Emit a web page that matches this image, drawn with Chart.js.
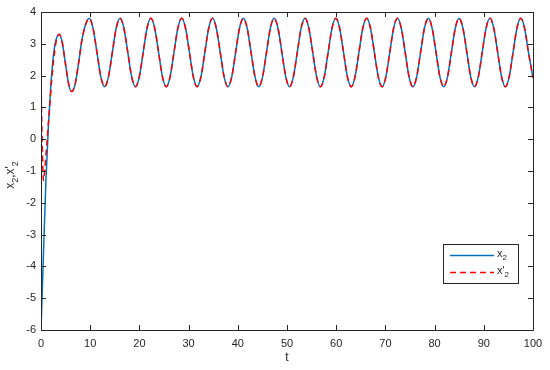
<!DOCTYPE html>
<html>
<head>
<meta charset="utf-8">
<script src="https://cdn.jsdelivr.net/npm/chart.js@4"></script>
<style>
  body { margin: 0; background: #fff; }
  canvas { display: block; }
</style>
</head>
<body>
<canvas id="stateChart" width="550" height="370"></canvas>
<script>
// transient part (t, x2) and (t, x'2)
var tHeadX2 = [0, 0.5, 1.0, 1.5, 2.0, 2.5, 3.0, 3.7, 4.3, 4.95, 5.6, 6.2, 6.9, 7.6, 8.3, 9.05];
var headX2 = [-6, -3.6, -1.3, 0.4, 1.7, 2.6, 3.1, 3.3, 3.05, 2.4, 1.75, 1.5, 1.7, 2.35, 3.1, 3.6];
var tHeadX2p = [0, 0.15, 0.3, 0.5, 0.8, 1.2, 1.7, 2.2, 2.8, 3.2, 3.7, 4.3, 4.95, 5.6, 6.2, 6.9, 7.6, 8.3, 9.05];
var headX2p = [2.0, 0.6, -0.5, -1.3, -0.9, -0.1, 0.9, 1.9, 2.8, 3.15, 3.3, 3.05, 2.4, 1.75, 1.5, 1.7, 2.35, 3.1, 3.6];

// steady oscillation, both signals overlap here
var tTail = [
  9.8, 10.58, 11.37, 12.15, 12.93, 13.72, 14.5, 15.28,
  16.07, 16.85, 17.64, 18.42, 19.2, 19.99, 20.77, 21.55,
  22.33, 23.11, 23.9, 24.68, 25.46, 26.25, 27.03, 27.81,
  28.6, 29.38, 30.17, 30.95, 31.73, 32.52, 33.3, 34.08,
  34.86, 35.64, 36.43, 37.21, 37.99, 38.78, 39.56, 40.34,
  41.13, 41.91, 42.7, 43.48, 44.26, 45.05, 45.83, 46.61,
  47.39, 48.17, 48.96, 49.74, 50.52, 51.31, 52.09, 52.87,
  53.66, 54.44, 55.23, 56.01, 56.79, 57.58, 58.36, 59.14,
  59.92, 60.7, 61.49, 62.27, 63.05, 63.84, 64.62, 65.4,
  66.19, 66.97, 67.76, 68.54, 69.32, 70.11, 70.89, 71.67,
  72.45, 73.23, 74.02, 74.8, 75.58, 76.37, 77.15, 77.93,
  78.72, 79.5, 80.29, 81.07, 81.85, 82.64, 83.42, 84.2,
  84.98, 85.76, 86.55, 87.33, 88.11, 88.9, 89.68, 90.46,
  91.25, 92.03, 92.82, 93.6, 94.38, 95.17, 95.95, 96.73,
  97.51, 98.29, 99.08, 100
];
var tailValues = [
  3.8, 3.49, 2.73, 1.97, 1.65, 1.97, 2.73, 3.49,
  3.8, 3.49, 2.73, 1.97, 1.65, 1.97, 2.73, 3.49,
  3.8, 3.49, 2.73, 1.97, 1.65, 1.97, 2.73, 3.49,
  3.8, 3.49, 2.73, 1.97, 1.65, 1.97, 2.73, 3.49,
  3.8, 3.49, 2.73, 1.97, 1.65, 1.97, 2.73, 3.49,
  3.8, 3.49, 2.73, 1.97, 1.65, 1.97, 2.73, 3.49,
  3.8, 3.49, 2.73, 1.97, 1.65, 1.97, 2.73, 3.49,
  3.8, 3.49, 2.73, 1.97, 1.65, 1.97, 2.73, 3.49,
  3.8, 3.49, 2.73, 1.97, 1.65, 1.97, 2.73, 3.49,
  3.8, 3.49, 2.73, 1.97, 1.65, 1.97, 2.73, 3.49,
  3.8, 3.49, 2.73, 1.97, 1.65, 1.97, 2.73, 3.49,
  3.8, 3.49, 2.73, 1.97, 1.65, 1.97, 2.73, 3.49,
  3.8, 3.49, 2.73, 1.97, 1.65, 1.97, 2.73, 3.49,
  3.8, 3.49, 2.73, 1.97, 1.65, 1.97, 2.73, 3.49,
  3.8, 3.49, 2.73, 1.93
];

var xTicks = [0, 10, 20, 30, 40, 50, 60, 70, 80, 90, 100];
var yTicks = [-6, -5, -4, -3, -2, -1, 0, 1, 2, 3, 4];

var axisColor = '#262626';
var blue = '#0072BD';
var red = '#FF0000';
var fontFamily = '"Liberation Sans", Arial, Helvetica, sans-serif';

function toPoints(ts, ys) {
  var pts = [];
  for (var i = 0; i < ts.length; i++) pts.push({ x: ts[i], y: ys[i] });
  return pts;
}

var x2Data = toPoints(tHeadX2.concat(tTail), headX2.concat(tailValues));
var x2pData = toPoints(tHeadX2p.concat(tTail), headX2p.concat(tailValues));

// draw text with a lowered small "2"
function drawSub(ctx, parts, x, y, size) {
  var cx = x;
  parts.forEach(function (p) {
    if (p.sub) {
      ctx.font = Math.round(size * 0.75) + 'px ' + fontFamily;
      ctx.fillText(p.text, cx, y + size * 0.35);
    } else {
      ctx.font = size + 'px ' + fontFamily;
      ctx.fillText(p.text, cx, y);
    }
    cx += ctx.measureText(p.text).width;
  });
  return cx - x;
}
function subWidth(ctx, parts, size) {
  var w = 0;
  parts.forEach(function (p) {
    ctx.font = (p.sub ? Math.round(size * 0.75) : size) + 'px ' + fontFamily;
    w += ctx.measureText(p.text).width;
  });
  return w;
}

var matlabFrame = {
  id: 'matlabFrame',
  beforeDraw: function (chart) {
    var ctx = chart.ctx;
    ctx.save();
    ctx.fillStyle = '#fff';
    ctx.fillRect(0, 0, chart.width, chart.height);
    ctx.restore();
  },
  afterDraw: function (chart) {
    var ctx = chart.ctx;
    var a = chart.chartArea;
    var xs = chart.scales.x, ys = chart.scales.y;
    var tl = 5;
    ctx.save();
    ctx.strokeStyle = axisColor;
    ctx.lineWidth = 1;
    ctx.beginPath();
    ctx.rect(Math.round(a.left) + 0.5, Math.round(a.top) + 0.5,
      Math.round(a.right - a.left), Math.round(a.bottom - a.top));
    ctx.stroke();
    ctx.beginPath();
    xTicks.forEach(function (v) {
      var px = Math.round(xs.getPixelForValue(v)) + 0.5;
      ctx.moveTo(px, a.bottom); ctx.lineTo(px, a.bottom - tl);
      ctx.moveTo(px, a.top); ctx.lineTo(px, a.top + tl);
    });
    yTicks.forEach(function (v) {
      var py = Math.round(ys.getPixelForValue(v)) + 0.5;
      ctx.moveTo(a.left, py); ctx.lineTo(a.left + tl, py);
      ctx.moveTo(a.right, py); ctx.lineTo(a.right - tl, py);
    });
    ctx.stroke();

    // axis titles
    ctx.fillStyle = axisColor;
    ctx.textBaseline = 'middle';
    ctx.textAlign = 'center';
    ctx.font = '12px ' + fontFamily;
    ctx.fillText('t', (a.left + a.right) / 2, 358);

    var yParts = [{ text: 'x' }, { text: '2', sub: true }, { text: ",x'" }, { text: '2', sub: true }];
    ctx.save();
    ctx.translate(11, 175);
    ctx.rotate(-Math.PI / 2);
    ctx.textAlign = 'left';
    drawSub(ctx, yParts, -subWidth(ctx, yParts, 12) / 2, 0, 12);
    ctx.restore();

    // legend box
    var lx = 443, ly = 244, lw = 75, lh = 39;
    ctx.fillStyle = '#fff';
    ctx.fillRect(lx, ly, lw, lh);
    ctx.lineWidth = 1;
    ctx.strokeStyle = axisColor;
    ctx.strokeRect(lx + 0.5, ly + 0.5, lw, lh);
    ctx.lineWidth = 1.5;
    ctx.strokeStyle = blue;
    ctx.beginPath(); ctx.moveTo(450, 255.5); ctx.lineTo(494, 255.5); ctx.stroke();
    ctx.strokeStyle = red;
    ctx.setLineDash([6, 4]);
    ctx.beginPath(); ctx.moveTo(450, 272.5); ctx.lineTo(494, 272.5); ctx.stroke();
    ctx.setLineDash([]);
    ctx.fillStyle = axisColor;
    ctx.textAlign = 'left';
    drawSub(ctx, [{ text: 'x' }, { text: '2', sub: true }], 497, 254, 11);
    drawSub(ctx, [{ text: "x'" }, { text: '2', sub: true }], 497, 271, 11);
    ctx.restore();
  }
};

var ctx = document.getElementById('stateChart').getContext('2d');
var stateChart = new Chart(ctx, {
  type: 'line',
  data: {
    datasets: [{
      label: "x'2",
      data: x2pData,
      borderColor: red,
      borderWidth: 1.5,
      borderDash: [6, 4],
      pointRadius: 0,
      cubicInterpolationMode: 'monotone',
      fill: false
    }, {
      label: 'x2',
      data: x2Data,
      borderColor: blue,
      borderWidth: 1.5,
      pointRadius: 0,
      cubicInterpolationMode: 'monotone',
      fill: false
    }]
  },
  options: {
    responsive: false,
    animation: false,
    layout: { padding: { left: 0, right: 17, top: 12, bottom: 0 } },
    plugins: {
      legend: { display: false },
      tooltip: { enabled: false }
    },
    scales: {
      x: {
        type: 'linear',
        min: 0,
        max: 100,
        afterFit: function (s) { s.height = 40; },
        afterBuildTicks: function (s) { s.ticks = xTicks.map(function (v) { return { value: v }; }); },
        grid: { display: false, drawTicks: false },
        border: { display: false },
        ticks: { color: axisColor, font: { family: fontFamily, size: 11 }, padding: 7, maxRotation: 0 }
      },
      y: {
        type: 'linear',
        min: -6,
        max: 4,
        afterFit: function (s) { s.width = 41; },
        afterBuildTicks: function (s) { s.ticks = yTicks.map(function (v) { return { value: v }; }); },
        grid: { display: false, drawTicks: false },
        border: { display: false },
        ticks: { color: axisColor, font: { family: fontFamily, size: 11 }, padding: 5 }
      }
    }
  },
  plugins: [matlabFrame]
});
</script>
</body>
</html>
